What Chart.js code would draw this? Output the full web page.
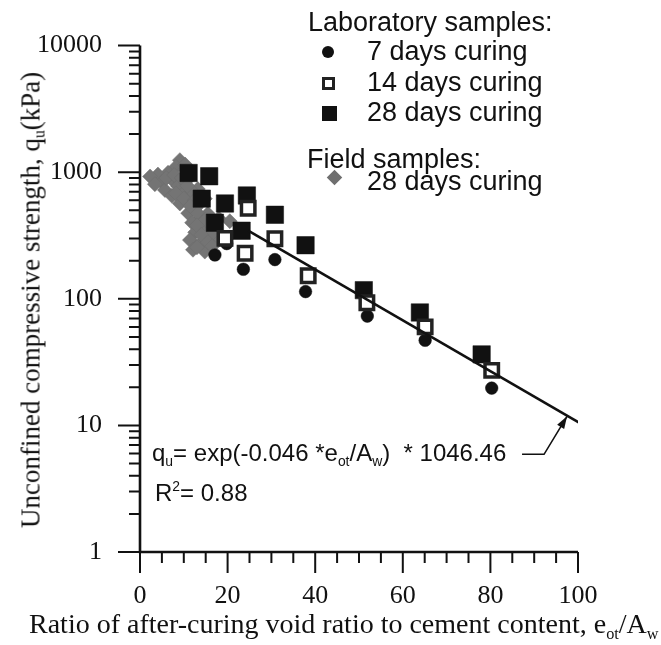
<!DOCTYPE html>
<html>
<head>
<meta charset="utf-8">
<title>Unconfined compressive strength vs e_ot/A_w</title>
<script src="https://cdn.jsdelivr.net/npm/chart.js@4.4.1/dist/chart.umd.min.js"></script>
<style>
  html, body { margin: 0; padding: 0; background: #fff; }
  #wrap { position: relative; width: 661px; height: 645px; overflow: hidden; }
  #chart { position: absolute; left: 0; top: 0; }
  .txt { position: absolute; white-space: nowrap; color: #111; line-height: 1; }
  .sans { font-family: "Liberation Sans", Arial, sans-serif; }
  .serif { font-family: "Liberation Serif", "Times New Roman", serif; }
  .txt sub { font-size: 58%; vertical-align: -0.35em; line-height: 0; }
  .txt sup { font-size: 58%; vertical-align: 0.75em; line-height: 0; }
  .mk { position: absolute; box-sizing: border-box; }
  .mk.circle { width: 12px; height: 12px; border-radius: 50%; background: #111; }
  .mk.open { width: 13px; height: 13px; border: 3px solid #222; background: #fff; }
  .mk.filled { width: 15px; height: 15px; background: #111; }
  .mk.diamond { width: 11px; height: 11px; background: #6f6f6f; transform: rotate(45deg); }
</style>
</head>
<body>
<div id="wrap">
  <canvas id="chart" width="661" height="645"></canvas>

  <div class="txt serif" style="font-size:27px;left:31px;top:300px;transform:translate(-50%,-50%) rotate(-90deg);">Unconfined compressive strength, q<sub>u</sub>(kPa)</div>
  <div class="txt serif" style="font-size:28px;left:29px;top:610px;">Ratio of after-curing void ratio to cement content, e<sub>ot</sub>/A<sub>w</sub></div>

  <div class="txt sans" style="font-size:27px;left:308px;top:9px;">Laboratory samples:</div>
  <div class="mk circle" style="left:322px;top:46px;"></div>
  <div class="txt sans" style="font-size:27px;left:367px;top:38px;">7 days curing</div>
  <div class="mk open" style="left:322px;top:77px;"></div>
  <div class="txt sans" style="font-size:27px;left:367px;top:69px;">14 days curing</div>
  <div class="mk filled" style="left:322px;top:106px;"></div>
  <div class="txt sans" style="font-size:27px;left:367px;top:99px;">28 days curing</div>
  <div class="txt sans" style="font-size:27px;left:307px;top:146px;">Field samples:</div>
  <div class="mk diamond" style="left:329px;top:172px;"></div>
  <div class="txt sans" style="font-size:27px;left:367px;top:168px;">28 days curing</div>

  <div class="txt sans" style="font-size:24px;left:152px;top:441px;">q<sub>u</sub>= exp(-0.046 *e<sub>ot</sub>/A<sub>w</sub>)&nbsp; * 1046.46</div>
  <div class="txt sans" style="font-size:24px;left:155px;top:481px;">R<sup>2</sup>= 0.88</div>
</div>

<script>
// lab samples, 7 days curing (circles)
const days7X = [17.1, 19.8, 23.6, 30.8, 37.8, 51.9, 65.1, 80.3];
const days7Y = [222, 273, 171, 204, 114, 73, 47, 19.7];

// lab samples, 14 days curing (open squares)
const days14X = [19.4, 24.0, 24.7, 30.8, 38.4, 51.8, 65.1, 80.3];
const days14Y = [300, 229, 519, 298, 152, 93, 60, 27.2];

// lab samples, 28 days curing (filled squares)
const days28X = [11.1, 15.8, 14.1, 19.4, 24.4, 17.1, 23.2, 30.8, 37.8, 51.1, 63.9, 78.0];
const days28Y = [986, 929, 618, 566, 655, 399, 345, 461, 265, 117, 78, 36.4];

// field samples, 28 days curing (grey diamonds)
const fieldX = [9.1, 8.2, 10.3, 6.4, 4.1, 2.3, 5.0, 7.3, 3.4, 5.7, 8.7, 7.3, 9.8, 11.4, 9.1,
                12.6, 11.0, 13.7, 11.9, 14.8, 12.6, 11.4, 13.7, 16.0, 12.1, 14.8, 13.2, 14.8,
                16.5, 15.5, 13.5, 17.0, 10.5, 12.0, 18.0, 20.5, 16.5,
                6.0, 7.8, 9.5, 10.8, 8.2, 10.0, 12.5, 13.0, 15.0, 11.5, 13.0, 14.0, 15.5, 13.0, 16.5, 10.3];
const fieldY = [1245, 1101, 1045, 991, 957, 925, 832, 877, 804, 723, 776, 651, 674, 607, 566,
                519, 475, 435, 399, 366, 335, 291, 271, 307, 244, 236, 736, 618,
                380, 470, 560, 300, 850, 700, 430, 410, 330,
                900, 950, 900, 780, 680, 620, 600, 480, 420, 540, 380, 320, 280, 255, 260, 1150];

// regression line end points
const fitX = [24.7, 100.5];
const fitY = [345, 10.4];

const xTickLabels = [0, 20, 40, 60, 80, 100];
const yTickLabels = [1, 10, 100, 1000, 10000];

const pts = (xs, ys) => xs.map((x, i) => ({ x: x, y: ys[i] }));
const ink = '#111';
const serifFont = '"Liberation Serif", "Times New Roman", serif';

const axisPlugin = {
  id: 'axisTicks',
  afterDraw(chart) {
    const { ctx, chartArea: a, scales: { x, y } } = chart;
    ctx.save();
    ctx.strokeStyle = ink;
    ctx.lineWidth = 2.6;
    ctx.beginPath();
    ctx.moveTo(a.left, a.top);
    ctx.lineTo(a.left, a.bottom);
    ctx.lineTo(a.right, a.bottom);
    ctx.stroke();

    ctx.lineWidth = 2;
    ctx.beginPath();
    // y ticks: decades long, 2..9 short, pointing outwards
    for (let d = 0; d < yTickLabels.length; d++) {
      const base = yTickLabels[d];
      const py = y.getPixelForValue(base);
      ctx.moveTo(a.left - 22, py);
      ctx.lineTo(a.left, py);
      if (d === yTickLabels.length - 1) break;
      for (let m = 2; m <= 9; m++) {
        const pm = y.getPixelForValue(base * m);
        ctx.moveTo(a.left - 11, pm);
        ctx.lineTo(a.left, pm);
      }
    }
    // x ticks: every 20 long, every 5 short
    for (let v = 0; v <= 100; v += 5) {
      const px = x.getPixelForValue(v);
      const len = v % 20 === 0 ? 21 : 11;
      ctx.moveTo(px, a.bottom);
      ctx.lineTo(px, a.bottom + len);
    }
    ctx.stroke();

    // arrow from the equation to the fitted line
    const tipX = x.getPixelForValue(97.5);
    const tipY = y.getPixelForValue(11.8);
    const sx = tipX - 23, sy = tipY + 38;
    ctx.lineWidth = 1.6;
    ctx.beginPath();
    ctx.moveTo(sx - 22, sy);
    ctx.lineTo(sx, sy);
    ctx.lineTo(tipX, tipY);
    ctx.stroke();
    const ang = Math.atan2(tipY - sy, tipX - sx);
    ctx.fillStyle = ink;
    ctx.beginPath();
    ctx.moveTo(tipX, tipY);
    ctx.lineTo(tipX - 13 * Math.cos(ang - 0.32), tipY - 13 * Math.sin(ang - 0.32));
    ctx.lineTo(tipX - 13 * Math.cos(ang + 0.32), tipY - 13 * Math.sin(ang + 0.32));
    ctx.closePath();
    ctx.fill();
    ctx.restore();
  }
};

new Chart(document.getElementById('chart'), {
  type: 'scatter',
  data: {
    datasets: [
      {
        type: 'line',
        label: 'fit',
        data: pts(fitX, fitY),
        borderColor: ink,
        borderWidth: 2.6,
        pointRadius: 0,
        fill: false,
        order: 0
      },
      {
        label: '14 days curing',
        data: pts(days14X, days14Y),
        pointStyle: 'rect',
        pointRadius: 9.5,
        pointBackgroundColor: '#fff',
        pointBorderColor: '#222',
        pointBorderWidth: 3.5,
        order: 1
      },
      {
        label: '28 days curing',
        data: pts(days28X, days28Y),
        pointStyle: 'rect',
        pointRadius: 12.3,
        pointBackgroundColor: ink,
        pointBorderColor: ink,
        pointBorderWidth: 0.5,
        order: 2
      },
      {
        label: '7 days curing',
        data: pts(days7X, days7Y),
        pointStyle: 'circle',
        pointRadius: 6.3,
        pointBackgroundColor: ink,
        pointBorderColor: ink,
        pointBorderWidth: 0.5,
        order: 3
      },
      {
        label: 'Field 28 days curing',
        data: pts(fieldX, fieldY),
        pointStyle: 'rectRot',
        pointRadius: 7.5,
        pointBackgroundColor: '#747474',
        pointBorderColor: '#6c6c6c',
        pointBorderWidth: 0.5,
        order: 4
      }
    ]
  },
  options: {
    responsive: false,
    animation: false,
    devicePixelRatio: 1,
    layout: { padding: { top: 26, right: 83, left: 0, bottom: 0 } },
    plugins: {
      legend: { display: false },
      tooltip: { enabled: false }
    },
    scales: {
      x: {
        type: 'linear',
        min: 0,
        max: 100,
        grid: { display: false },
        border: { display: false },
        ticks: {
          padding: 21,
          color: ink,
          font: { family: serifFont, size: 26 }
        },
        afterBuildTicks: s => { s.ticks = xTickLabels.map(v => ({ value: v })); },
        afterFit: s => { s.height = 93; }
      },
      y: {
        type: 'logarithmic',
        min: 1,
        max: 10000,
        grid: { display: false },
        border: { display: false },
        ticks: {
          autoSkip: false,
          padding: 30,
          color: ink,
          font: { family: serifFont, size: 26 },
          callback: v => String(v)
        },
        afterBuildTicks: s => { s.ticks = yTickLabels.map(v => ({ value: v })); },
        afterFit: s => { s.width = 140; }
      }
    }
  },
  plugins: [axisPlugin]
});
</script>
</body>
</html>
